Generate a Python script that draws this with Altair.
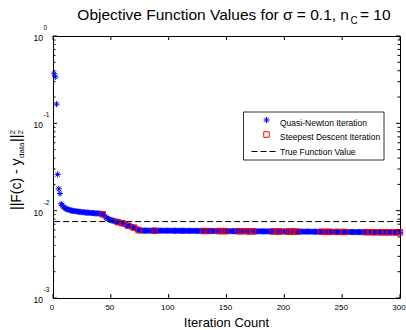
import altair as alt
import pandas as pd

# ---- data -------------------------------------------------------------
iterations = list(range(1, 301))

objective_values = [
    0.37, 0.34, 0.166, 0.026, 0.0178, 0.0157, 0.0120, 0.0115, 0.0111, 0.0108,
    0.0106, 0.0104, 0.0103, 0.0102, 0.0101, 0.0100, 0.0100, 0.0099, 0.0099, 0.0098,
    0.0098, 0.0097, 0.0097, 0.0097, 0.0096, 0.0096, 0.0096, 0.0095, 0.0095, 0.0095,
    0.0095, 0.0094, 0.0094, 0.0094, 0.0094, 0.0093, 0.0093, 0.0093, 0.0093, 0.0093,
    0.0092, 0.0092, 0.0091, 0.0089, 0.0086, 0.0083, 0.0081, 0.0080, 0.0079, 0.0078,
    0.0077, 0.0077, 0.0076, 0.0075, 0.0075, 0.0074, 0.0073, 0.0073, 0.0072, 0.0072,
    0.0071, 0.0070, 0.0069, 0.0068, 0.0067, 0.0067, 0.0066, 0.0065, 0.0065, 0.0064,
    0.0063, 0.0062, 0.0061, 0.0060, 0.0059, 0.0059, 0.0059, 0.0059, 0.0059, 0.0059,
    0.00591, 0.00590, 0.00590, 0.00590, 0.00589, 0.00590, 0.00590, 0.00589, 0.00590, 0.00590,
    0.00590, 0.00589, 0.00590, 0.00590, 0.00589, 0.00589, 0.00590, 0.00589, 0.00589, 0.00589,
    0.00589, 0.00589, 0.00588, 0.00589, 0.00589, 0.00588, 0.00589, 0.00588, 0.00588, 0.00588,
    0.00588, 0.00588, 0.00588, 0.00587, 0.00588, 0.00587, 0.00587, 0.00587, 0.00587, 0.00587,
    0.00587, 0.00586, 0.00587, 0.00586, 0.00586, 0.00586, 0.00586, 0.00586, 0.00586, 0.00585,
    0.00586, 0.00585, 0.00585, 0.00585, 0.00585, 0.00585, 0.00585, 0.00585, 0.00584, 0.00585,
    0.00584, 0.00584, 0.00584, 0.00584, 0.00584, 0.00584, 0.00583, 0.00584, 0.00583, 0.00583,
    0.00583, 0.00583, 0.00583, 0.00583, 0.00583, 0.00582, 0.00583, 0.00582, 0.00582, 0.00582,
    0.00582, 0.00582, 0.00582, 0.00582, 0.00581, 0.00582, 0.00581, 0.00581, 0.00581, 0.00581,
    0.00581, 0.00581, 0.00580, 0.00581, 0.00580, 0.00580, 0.00580, 0.00580, 0.00580, 0.00580,
    0.00580, 0.00579, 0.00580, 0.00579, 0.00579, 0.00579, 0.00579, 0.00579, 0.00579, 0.00578,
    0.00579, 0.00578, 0.00578, 0.00578, 0.00578, 0.00578, 0.00578, 0.00577, 0.00578, 0.00577,
    0.00577, 0.00577, 0.00577, 0.00577, 0.00577, 0.00576, 0.00577, 0.00576, 0.00576, 0.00576,
    0.00576, 0.00576, 0.00576, 0.00575, 0.00576, 0.00575, 0.00575, 0.00575, 0.00575, 0.00575,
    0.00575, 0.00574, 0.00575, 0.00574, 0.00574, 0.00574, 0.00574, 0.00574, 0.00573, 0.00574,
    0.00573, 0.00573, 0.00573, 0.00573, 0.00573, 0.00572, 0.00573, 0.00572, 0.00572, 0.00572,
    0.00572, 0.00572, 0.00571, 0.00572, 0.00571, 0.00571, 0.00571, 0.00571, 0.00571, 0.00570,
    0.00571, 0.00570, 0.00570, 0.00570, 0.00570, 0.00570, 0.00569, 0.00570, 0.00569, 0.00569,
    0.00569, 0.00569, 0.00569, 0.00568, 0.00569, 0.00568, 0.00568, 0.00568, 0.00568, 0.00568,
    0.00567, 0.00568, 0.00567, 0.00567, 0.00567, 0.00567, 0.00567, 0.00566, 0.00567, 0.00566,
    0.00566, 0.00566, 0.00566, 0.00566, 0.00565, 0.00566, 0.00565, 0.00565, 0.00565, 0.00565,
    0.00565, 0.00565, 0.00564, 0.00565, 0.00564, 0.00564, 0.00564, 0.00564, 0.00564, 0.00564,
]

# iterations at which a steepest-descent step was taken
sd_iterations = [
    43, 56, 60, 65, 70, 74, 88, 130, 134, 143, 146, 149, 160, 163, 168, 170,
    173, 190, 194, 196, 203, 205, 207, 211, 232, 236, 239, 246, 252, 270,
    274, 278, 283, 287, 291, 296, 300,
]

true_value = 0.0075
true_span = [1, 300]

x_tick_values = [0, 50, 100, 150, 200, 250, 300]
y_decades = [1.0, 0.1, 0.01, 0.001]
y_exponents = ["0", "-1", "-2", "-3"]
y_minor = [m * d for d in [0.001, 0.01, 0.1] for m in range(2, 10)]

legend_labels = [
    "Quasi-Newton Iteration",
    "Steepest Descent Iteration",
    "True Function Value",
]

# ---- style ------------------------------------------------------------
FONT = "Liberation Sans"
W, H = 347, 262
BLUE = "#0000ff"
RED = "#ff0000"
STAR = "M0,-1L0,1M-1,0L1,0M-0.72,-0.72L0.72,0.72M-0.72,0.72L0.72,-0.72"

x_scale = alt.Scale(domain=[0, 300], nice=False, zero=False)
y_scale = alt.Scale(type="log", domain=[0.001, 1], nice=False)

qn_df = pd.DataFrame({"iteration": iterations, "objective": objective_values})
sd_df = qn_df[qn_df["iteration"].isin(sd_iterations)]
true_df = pd.DataFrame({"start": [true_span[0]], "end": [true_span[1]], "value": [true_value]})
one = pd.DataFrame({"k": [0]})

# ---- data marks -------------------------------------------------------
qn = alt.Chart(qn_df).mark_point(
    shape=STAR, filled=False, color=BLUE, strokeWidth=1, size=36, opacity=1
).encode(
    x=alt.X("iteration:Q", scale=x_scale, axis=None),
    y=alt.Y("objective:Q", scale=y_scale, axis=None),
)

sd = alt.Chart(sd_df).mark_point(
    shape="square", filled=False, color=RED, strokeWidth=1, size=30, opacity=1
).encode(
    x=alt.X("iteration:Q", scale=x_scale, axis=None),
    y=alt.Y("objective:Q", scale=y_scale, axis=None),
)

true_line = alt.Chart(true_df).mark_rule(
    color="black", strokeWidth=1, strokeDash=[6, 3]
).encode(
    x=alt.X("start:Q", scale=x_scale, axis=None),
    x2="end:Q",
    y=alt.Y("value:Q", scale=y_scale, axis=None),
)

# ---- box ticks (inward, on all four sides) -----------------------------
xt_df = pd.DataFrame({"t": x_tick_values})
xt_bottom = alt.Chart(xt_df).mark_rule(color="black", strokeWidth=1).encode(
    x=alt.X("t:Q", scale=x_scale, axis=None), y=alt.value(H), y2=alt.value(H - 4)
)
xt_top = alt.Chart(xt_df).mark_rule(color="black", strokeWidth=1).encode(
    x=alt.X("t:Q", scale=x_scale, axis=None), y=alt.value(0), y2=alt.value(4)
)
xt_labels = alt.Chart(xt_df).mark_text(
    align="center", baseline="middle", dx=-1, font=FONT, fontSize=8, color="black"
).encode(
    x=alt.X("t:Q", scale=x_scale, axis=None), y=alt.value(H + 10), text="t:Q"
)

yM_df = pd.DataFrame({"t": y_decades})
ym_df = pd.DataFrame({"t": y_minor})


def y_ticks(df, length):
    left = alt.Chart(df).mark_rule(color="black", strokeWidth=1).encode(
        y=alt.Y("t:Q", scale=y_scale, axis=None), x=alt.value(0), x2=alt.value(length)
    )
    right = alt.Chart(df).mark_rule(color="black", strokeWidth=1).encode(
        y=alt.Y("t:Q", scale=y_scale, axis=None), x=alt.value(W), x2=alt.value(W - length)
    )
    return left + right


# ---- y tick labels as 10^k -------------------------------------------
ylab_df = pd.DataFrame({"v": y_decades, "exp": y_exponents})
ten = alt.Chart(ylab_df).mark_text(
    text="10", align="right", baseline="middle", dy=2, font=FONT, fontSize=8.5, color="black"
).encode(x=alt.value(-10), y=alt.Y("v:Q", scale=y_scale, axis=None))
expo = alt.Chart(ylab_df).mark_text(
    align="left", baseline="middle", dy=-8, font=FONT, fontSize=6.5, color="black"
).encode(x=alt.value(-9.5), y=alt.Y("v:Q", scale=y_scale, axis=None), text="exp:N")


def label(txt, x, y, size, align="left", baseline="alphabetic", angle=0):
    kw = dict(text=txt, align=align, baseline=baseline, font=FONT,
              fontSize=size, color="black")
    if angle:
        kw["angle"] = angle
    return alt.Chart(one).mark_text(**kw).encode(x=alt.value(x), y=alt.value(y))


# ---- titles -----------------------------------------------------------
title = (
    label("Objective Function Values for σ = 0.1, n", 296, -16, 15.5, align="right")
    + label("C", 297.5, -12, 10)
    + label("= 10", 307, -16, 15.5)
)

xtitle = label("Iteration Count", W / 2, H + 25, 13, align="center", baseline="middle")

# ||F(c) - y_data||_2^2, written bottom-to-top
ytitle = (
    label("||F(c) - y", -36.5, 174, 14, baseline="middle", angle=270)
    + label("data", -31.5, 122, 8, baseline="middle", angle=270)
    + label("||", -36.5, 106, 14, baseline="middle", angle=270)
    + label("2", -40.5, 98.5, 8, baseline="middle", angle=270)
    + label("2", -32, 98.5, 8, baseline="middle", angle=270)
)

# ---- legend ------------------------------------------------------------
legend_box = alt.Chart(one).mark_rect(fill="white", stroke="black", strokeWidth=0.8).encode(
    x=alt.value(190.5), x2=alt.value(331), y=alt.value(76), y2=alt.value(124)
)
legend_star = alt.Chart(one).mark_point(
    shape=STAR, filled=False, color=BLUE, strokeWidth=1, size=36, opacity=1
).encode(x=alt.value(213.5), y=alt.value(84))
legend_square = alt.Chart(one).mark_point(
    shape="square", filled=False, color=RED, strokeWidth=1, size=30, opacity=1
).encode(x=alt.value(213.5), y=alt.value(98.5))
legend_dash = alt.Chart(one).mark_rule(color="black", strokeWidth=1, strokeDash=[6, 3]).encode(
    x=alt.value(198.5), x2=alt.value(223.5), y=alt.value(115.5)
)
legend_text = (
    label(legend_labels[0], 227, 86.5, 8.5, baseline="middle")
    + label(legend_labels[1], 227, 101, 8.5, baseline="middle")
    + label(legend_labels[2], 227, 115.5, 8.5, baseline="middle")
)

chart = alt.layer(
    qn, sd, true_line,
    xt_bottom, xt_top, xt_labels, y_ticks(yM_df, 4), y_ticks(ym_df, 2.5),
    ten, expo, title, xtitle, ytitle,
    legend_box, legend_star, legend_square, legend_dash, legend_text,
).properties(
    width=W,
    height=H,
    padding={"left": 53, "top": 36, "right": 6, "bottom": 32},
    autosize=alt.AutoSizeParams(type="none"),
    background="white",
).configure_view(stroke="black", strokeWidth=1)

chart.save("out.html", embed_options={"renderer": "svg", "actions": False})
